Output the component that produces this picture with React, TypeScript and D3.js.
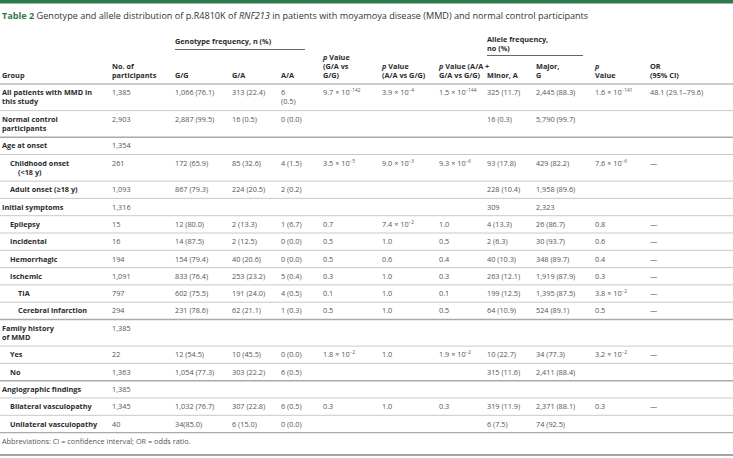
import React from "react";
import * as d3 from "d3";

// ---------- DATA ----------
const groupLabels = [
  "All patients with MMD in\nthis study",
  "Normal control\nparticipants",
  "Age at onset",
  "Childhood onset\n(<18 y)",
  "Adult onset (≥18 y)",
  "Initial symptoms",
  "Epilepsy",
  "Incidental",
  "Hemorrhagic",
  "Ischemic",
  "TIA",
  "Cerebral infarction",
  "Family history\nof MMD",
  "Yes",
  "No",
  "Angiographic findings",
  "Bilateral vasculopathy",
  "Unilateral vasculopathy",
];
const groupLevels = [0, 0, 0, 1, 1, 0, 1, 1, 1, 1, 2, 2, 0, 1, 1, 0, 1, 1];
const participants = ["1,385", "2,903", "1,354", "261", "1,093", "1,316", "15", "16", "194", "1,091", "797", "294", "1,385", "22", "1,363", "1,385", "1,345", "40"];
const genoGG = ["1,066 (76.1)", "2,887 (99.5)", "", "172 (65.9)", "867 (79.3)", "", "12 (80.0)", "14 (87.5)", "154 (79.4)", "833 (76.4)", "602 (75.5)", "231 (78.6)", "", "12 (54.5)", "1,054 (77.3)", "", "1,032 (76.7)", "34(85.0)"];
const genoGA = ["313 (22.4)", "16 (0.5)", "", "85 (32.6)", "224 (20.5)", "", "2 (13.3)", "2 (12.5)", "40 (20.6)", "253 (23.2)", "191 (24.0)", "62 (21.1)", "", "10 (45.5)", "303 (22.2)", "", "307 (22.8)", "6 (15.0)"];
const genoAA = ["6\n(0.5)", "0 (0.0)", "", "4 (1.5)", "2 (0.2)", "", "1 (6.7)", "0 (0.0)", "0 (0.0)", "5 (0.4)", "4 (0.5)", "1 (0.3)", "", "0 (0.0)", "6 (0.5)", "", "6 (0.5)", "0 (0.0)"];
const pGAvsGG = ["9.7 × 10^−142", "", "", "3.5 × 10^−5", "", "", "0.7", "0.5", "0.5", "0.3", "0.1", "0.5", "", "1.8 × 10^−2", "", "", "0.3", ""];
const pAAvsGG = ["3.9 × 10^−4", "", "", "9.0 × 10^−3", "", "", "7.4 × 10^−2", "1.0", "0.6", "1.0", "1.0", "1.0", "", "1.0", "", "", "1.0", ""];
const pAAGAvsGG = ["1.5 × 10^−144", "", "", "9.3 × 10^−6", "", "", "1.0", "0.5", "0.4", "0.3", "0.1", "0.5", "", "1.9 × 10^−2", "", "", "0.3", ""];
const alleleMinor = ["325 (11.7)", "16 (0.3)", "", "93 (17.8)", "228 (10.4)", "309", "4 (13.3)", "2 (6.3)", "40 (10.3)", "263 (12.1)", "199 (12.5)", "64 (10.9)", "", "10 (22.7)", "315 (11.6)", "", "319 (11.9)", "6 (7.5)"];
const alleleMajor = ["2,445 (88.3)", "5,790 (99.7)", "", "429 (82.2)", "1,958 (89.6)", "2,323", "26 (86.7)", "30 (93.7)", "348 (89.7)", "1,919 (87.9)", "1,395 (87.5)", "524 (89.1)", "", "34 (77.3)", "2,411 (88.4)", "", "2,371 (88.1)", "74 (92.5)"];
const pAllele = ["1.6 × 10^−141", "", "", "7.6 × 10^−6", "", "", "0.8", "0.6", "0.4", "0.3", "3.8 × 10^−2", "0.5", "", "3.2 × 10^−2", "", "", "0.3", ""];
const orCI = ["48.1 (29.1–79.6)", "", "", "—", "", "", "—", "—", "—", "—", "—", "—", "", "—", "", "", "—", ""];

const headerLabels = [
  ["Group"],
  ["No. of", "participants"],
  ["G/G"],
  ["G/A"],
  ["A/A"],
  ["*p* Value", "(G/A vs", "G/G)"],
  ["*p* Value", "(A/A vs G/G)"],
  ["*p* Value (A/A +", "G/A vs G/G)"],
  ["Minor, A"],
  ["Major,", "G"],
  ["*p*", "Value"],
  ["OR", "(95% CI)"],
];

const titleText = "Genotype and allele distribution of p.R4810K of ";
const footnote = "Abbreviations: CI = confidence interval; OR = odds ratio.";

// ---------- LAYOUT ----------
const W = 733, H = 458;
const FONT = "'Open Sans', 'Noto Sans', sans-serif";
const colX = [2, 112, 175, 232, 281, 323, 382, 439, 487, 536, 595, 650];
const levelX = [2, 10, 18];
const headerBottom = 84;
const singleH = 17.3, doubleH = 26.6;
const LINE = 9;
const FS = 7.3;
const labelColor = "#2b2b2b";
const dataColor = "#555";
const green = "#2f7a4c";

function PValue({ x, y, s }: { x: number; y: number; s: string }) {
  if (!s.includes("^")) return <text x={x} y={y}>{s}</text>;
  const [base, exp] = s.split("^");
  return (
    <text x={x} y={y}>
      {base}
      <tspan dy={-3} fontSize={4.8}>{exp}</tspan>
    </text>
  );
}

function HeaderLine({ x, y, s }: { x: number; y: number; s: string }) {
  const segs = s.split("*");
  return (
    <text x={x} y={y}>
      {segs.map((seg, i) =>
        seg === "" ? null : (
          <tspan key={i} fontStyle={i % 2 === 1 ? "italic" : "normal"}>{seg}</tspan>
        )
      )}
    </text>
  );
}

export default function App() {
  const heights = groupLabels.map((g) => (g.includes("\n") ? doubleH : singleH));
  const cum = Array.from(d3.cumsum(heights));
  const tops = heights.map((h, i) => headerBottom + (i === 0 ? 0 : cum[i - 1]));
  const tableBottom = headerBottom + cum[cum.length - 1];

  const dataCols = [participants, genoGG, genoGA, genoAA, pGAvsGG, pAAvsGG, pAAGAvsGG, alleleMinor, alleleMajor, pAllele, orCI];
  const pCols = new Set([4, 5, 6, 9]);
  const thickBefore = new Set([2, 12, 15]);

  const headerBase = 78;

  return (
    <svg width={W} height={H} style={{ position: "fixed", left: 0, top: 0, display: "block" }} fontFamily={FONT}>
      <rect x={0} y={0} width={W} height={H} fill="#fff" />
      <rect x={0} y={0} width={W} height={3.5} fill={green} />
      <text x={2} y={19} fontSize={9.1} fill="#333">
        <tspan fontWeight="bold" fill={green}>Table 2</tspan>
        <tspan> {titleText}</tspan>
        <tspan fontStyle="italic">RNF213</tspan>
        <tspan> in patients with moyamoya disease (MMD) and normal control participants</tspan>
      </text>

      {/* spanning headers */}
      <g fontSize={FS} fontWeight="bold" fill={labelColor}>
        <text x={colX[2]} y={44}>Genotype frequency, n (%)</text>
        <text x={colX[8]} y={42}>Allele frequency,</text>
        <text x={colX[8]} y={51}>no (%)</text>
        {headerLabels.map((lines, ci) =>
          lines.map((l, li) => (
            <HeaderLine key={ci + "-" + li} x={colX[ci]} y={headerBase - (lines.length - 1 - li) * LINE} s={l} />
          ))
        )}
      </g>
      <line x1={colX[2]} x2={305} y1={49.5} y2={49.5} stroke="#666" strokeWidth={1} />
      <line x1={colX[8]} x2={583} y1={55.5} y2={55.5} stroke="#666" strokeWidth={1} />
      <line x1={0} x2={W} y1={headerBottom} y2={headerBottom} stroke="#999" strokeWidth={1.2} />

      {/* rows */}
      {groupLabels.map((g, i) => {
        const lines = g.split("\n");
        const top = tops[i];
        const h = heights[i];
        const firstBase = lines.length > 1 ? top + h / 2 - LINE / 2 + 2.6 : top + h / 2 + 2.6;
        const lx = levelX[groupLevels[i]];
        return (
          <g key={i}>
            <g fontSize={FS} fontWeight="bold" fill={labelColor}>
              {lines.map((l, li) => (
                <text key={li} x={li > 0 && groupLevels[i] === 1 ? lx + 8 : lx} y={firstBase + li * LINE}>{l}</text>
              ))}
            </g>
            <g fontSize={FS} fill={dataColor}>
              {dataCols.map((col, ci) => {
                const v = col[i];
                if (!v) return null;
                const x = colX[ci + 1];
                if (pCols.has(ci)) return <PValue key={ci} x={x} y={firstBase} s={v} />;
                return v.split("\n").map((vl, vi) => (
                  <text key={ci + "-" + vi} x={x} y={firstBase + vi * LINE}>{vl}</text>
                ));
              })}
            </g>
            {i < groupLabels.length - 1 && (
              <line
                x1={0}
                x2={W}
                y1={top + h}
                y2={top + h}
                stroke={thickBefore.has(i + 1) ? "#aaa" : "#c9c9c9"}
                strokeWidth={thickBefore.has(i + 1) ? 1.5 : 1}
              />
            )}
          </g>
        );
      })}
      <line x1={0} x2={W} y1={tableBottom} y2={tableBottom} stroke="#aaa" strokeWidth={1.2} />
      <text x={2} y={tableBottom + 11} fontSize={FS} fill={dataColor}>{footnote}</text>
      <line x1={0} x2={W} y1={455} y2={455} stroke="#888" strokeWidth={1.5} />
    </svg>
  );
}
